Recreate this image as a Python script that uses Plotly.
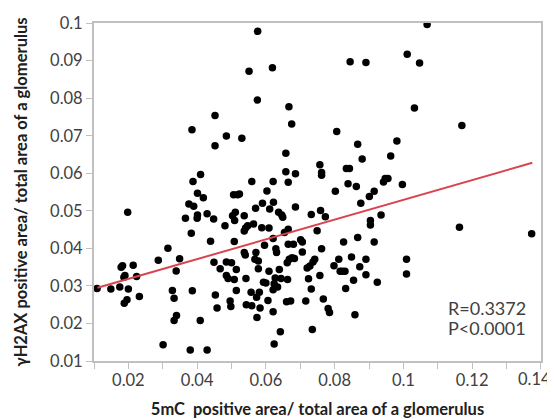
import plotly.graph_objects as go

# 5mC positive area ratio (x) and γH2AX positive area ratio (y)
x_5mC = [
    0.0109, 0.0149, 0.0175, 0.0179, 0.0183, 0.0187, 0.0190, 0.0188, 0.0196, 0.0200,
    0.0198, 0.0214, 0.0224, 0.0232, 0.0287, 0.0315, 0.0301, 0.0328, 0.0333, 0.0339,
    0.0349, 0.0333, 0.0340, 0.0366, 0.0376, 0.0383, 0.0388, 0.0385, 0.0390, 0.0380,
    0.0386, 0.0400, 0.0401, 0.0401, 0.0410, 0.0409, 0.0418, 0.0429, 0.0429, 0.0439,
    0.0448, 0.0452, 0.0452, 0.0449, 0.0453, 0.0458, 0.0467, 0.0481, 0.0485, 0.0485,
    0.0485, 0.0490, 0.0496, 0.0498, 0.0500, 0.0503, 0.0506, 0.0509, 0.0511, 0.0508,
    0.0508, 0.0514, 0.0514, 0.0518, 0.0523, 0.0530, 0.0537, 0.0537, 0.0541, 0.0537,
    0.0540, 0.0542, 0.0543, 0.0547, 0.0551, 0.0557, 0.0559, 0.0559, 0.0564, 0.0568,
    0.0570, 0.0571, 0.0573, 0.0574, 0.0575, 0.0576, 0.0578, 0.0578, 0.0581, 0.0583,
    0.0588, 0.0590, 0.0593, 0.0596, 0.0600, 0.0603, 0.0606, 0.0609, 0.0609, 0.0611,
    0.0619, 0.0621, 0.0621, 0.0621, 0.0624, 0.0622, 0.0621, 0.0624, 0.0627, 0.0629,
    0.0631, 0.0634, 0.0637, 0.0639, 0.0642, 0.0644, 0.0646, 0.0649, 0.0654, 0.0658,
    0.0658, 0.0660, 0.0662, 0.0663, 0.0665, 0.0667, 0.0665, 0.0665, 0.0668, 0.0672,
    0.0675, 0.0676, 0.0680, 0.0683, 0.0686, 0.0686, 0.0701, 0.0706, 0.0706, 0.0716,
    0.0720, 0.0724, 0.0728, 0.0732, 0.0732, 0.0737, 0.0735, 0.0742, 0.0749, 0.0757,
    0.0757, 0.0759, 0.0762, 0.0762, 0.0762, 0.0767, 0.0773, 0.0781, 0.0785, 0.0798,
    0.0802, 0.0806, 0.0812, 0.0816, 0.0822, 0.0826, 0.0830, 0.0832, 0.0834, 0.0839,
    0.0843, 0.0845, 0.0849, 0.0855, 0.0859, 0.0863, 0.0867, 0.0867, 0.0873, 0.0876,
    0.0880, 0.0891, 0.0891, 0.0891, 0.0901, 0.0904, 0.0904, 0.0915, 0.0915, 0.0924,
    0.0935, 0.0942, 0.0947, 0.0955, 0.0963, 0.0981, 0.0997, 0.1009, 0.1009, 0.1011,
    0.1032, 0.1047, 0.1069, 0.1163, 0.1170, 0.1373,
]
y_gH2AX = [
    0.0293, 0.0292, 0.0297, 0.0350, 0.0354, 0.0323, 0.0328, 0.0254, 0.0263, 0.0292,
    0.0496, 0.0355, 0.0325, 0.0272, 0.0368, 0.0400, 0.0143, 0.0288, 0.0267, 0.0340,
    0.0372, 0.0208, 0.0221, 0.0480, 0.0518, 0.0440, 0.0578, 0.0716, 0.0512, 0.0129,
    0.0287, 0.0480, 0.0489, 0.0547, 0.0597, 0.0208, 0.0535, 0.0492, 0.0129, 0.0419,
    0.0478, 0.0754, 0.0673, 0.0363, 0.0276, 0.0241, 0.0346, 0.0460, 0.0699, 0.0364,
    0.0328, 0.0320, 0.0260, 0.0245, 0.0362, 0.0487, 0.0543, 0.0474, 0.0496, 0.0418,
    0.0317, 0.0288, 0.0344, 0.0543, 0.0545, 0.0693, 0.0487, 0.0446, 0.0454, 0.0389,
    0.0382, 0.0320, 0.0250, 0.0460, 0.0872, 0.0283, 0.0578, 0.0247, 0.0465, 0.0371,
    0.0507, 0.0389, 0.0270, 0.0216, 0.0795, 0.0978, 0.0366, 0.0346, 0.0283, 0.0241,
    0.0455, 0.0520, 0.0310, 0.0408, 0.0308, 0.0553, 0.0261, 0.0454, 0.0339, 0.0505,
    0.0881, 0.0578, 0.0426, 0.0231, 0.0145, 0.0523, 0.0290, 0.0306, 0.0321, 0.0399,
    0.0389, 0.0297, 0.0496, 0.0344, 0.0178, 0.0320, 0.0489, 0.0483, 0.0442, 0.0653,
    0.0604, 0.0258, 0.0362, 0.0317, 0.0576, 0.0777, 0.0451, 0.0411, 0.0371, 0.0260,
    0.0731, 0.0375, 0.0411, 0.0373, 0.0599, 0.0510, 0.0423, 0.0390, 0.0417, 0.0260,
    0.0348, 0.0319, 0.0353, 0.0490, 0.0292, 0.0364, 0.0184, 0.0371, 0.0447, 0.0623,
    0.0328, 0.0501, 0.0602, 0.0595, 0.0399, 0.0265, 0.0484, 0.0240, 0.0229, 0.0354,
    0.0552, 0.0711, 0.0371, 0.0339, 0.0339, 0.0417, 0.0339, 0.0293, 0.0613, 0.0572,
    0.0613, 0.0897, 0.0377, 0.0315, 0.0223, 0.0565, 0.0429, 0.0677, 0.0351, 0.0520,
    0.0638, 0.0895, 0.0371, 0.0330, 0.0538, 0.0474, 0.0462, 0.0552, 0.0417, 0.0310,
    0.0489, 0.0577, 0.0586, 0.0586, 0.0646, 0.0686, 0.0570, 0.0371, 0.0332, 0.0917,
    0.0774, 0.0894, 0.0996, 0.0456, 0.0727, 0.0439,
]

# regression line end points
fit_x = [0.0110, 0.1375]
fit_y = [0.0295, 0.0628]

x_tick_vals = [0.02, 0.04, 0.06, 0.08, 0.10, 0.12, 0.14]
x_tick_labels = ["0.02", "0.04", "0.06", "0.08", "0.1", "0.12", "0.14"]
y_tick_vals = [0.01, 0.02, 0.03, 0.04, 0.05, 0.06, 0.07, 0.08, 0.09, 0.10]
y_tick_text = ["0.01", "0.02", "0.03", "0.04", "0.05", "0.06", "0.07", "0.08", "0.09", "0.1"]

stats_text = ["R=0.3372", "P<0.0001"]
stats_y = [0.0241, 0.0188]

FONT = "Lato, Open Sans, sans-serif"
TICK_COLOR = "#404040"
FRAME = "#c0c0c0"
TICK_SIZE = 16.5

# the last x label sits at the right edge of the picture; it is drawn as an
# annotation nudged a little left (as in the reference) so it stays visible
x_tick_text = x_tick_labels[:-1] + [""]

fig = go.Figure()
fig.add_trace(go.Scatter(
    x=x_5mC, y=y_gH2AX, mode="markers",
    marker=dict(color="black", size=7.5, line=dict(width=0)),
    hoverinfo="x+y", showlegend=False,
))
fig.add_trace(go.Scatter(
    x=fit_x, y=fit_y, mode="lines",
    line=dict(color="#d9434e", width=2),
    hoverinfo="skip", showlegend=False,
))

# the page body has an 8px margin, so the figure is offset by 8px
fig.update_layout(
    width=547, height=411,
    margin=dict(l=86, r=14, t=15, b=58),
    paper_bgcolor="white", plot_bgcolor="white",
    font=dict(family=FONT, color=TICK_COLOR, size=TICK_SIZE),
    xaxis=dict(
        range=[0.01, 0.14002],
        tickmode="array", tickvals=x_tick_vals, ticktext=x_tick_text,
        ticks="outside", ticklen=6, tickcolor=FRAME, tickwidth=1,
        minor=dict(dtick=0.01, tick0=0.01, ticks="outside", ticklen=6, tickcolor=FRAME, showgrid=False),
        showgrid=False, zeroline=False,
        showline=True, linecolor=FRAME, linewidth=2, mirror=True,
        tickfont=dict(family=FONT, size=TICK_SIZE, color=TICK_COLOR),
        ticklabeloverflow="allow", ticklabelstandoff=-3,
        automargin=False,
        title=dict(text="<b>5mC  positive area/ total area of a glomerulus</b>",
                   font=dict(family=FONT, size=16.5, color="#202020"), standoff=16),
    ),
    yaxis=dict(
        range=[0.01, 0.10002],
        tickmode="array", tickvals=y_tick_vals, ticktext=y_tick_text,
        ticks="outside", ticklen=6, tickcolor=FRAME, tickwidth=1,
        showgrid=False, zeroline=False,
        showline=True, linecolor=FRAME, linewidth=2, mirror=True,
        tickfont=dict(family=FONT, size=TICK_SIZE, color=TICK_COLOR),
        ticklabeloverflow="allow",
        automargin=False,
        title=dict(text="<b>γH2AX positive area/ total area of a glomerulus</b>",
                   font=dict(family=FONT, size=16.5, color="#202020"), standoff=18),
    ),
)

fig.add_annotation(
    x=x_tick_vals[-1], y=0, xref="x", yref="paper",
    text=x_tick_labels[-1], showarrow=False,
    xanchor="center", yanchor="middle", xshift=-6, yshift=-18,
    font=dict(family=FONT, size=TICK_SIZE, color=TICK_COLOR),
)

for t, yv in zip(stats_text, stats_y):
    fig.add_annotation(
        x=0.1123, y=yv, xref="x", yref="y",
        text=t, showarrow=False, xanchor="left", yanchor="middle",
        font=dict(family=FONT, size=18, color=TICK_COLOR),
    )

fig.write_html("out.html")
